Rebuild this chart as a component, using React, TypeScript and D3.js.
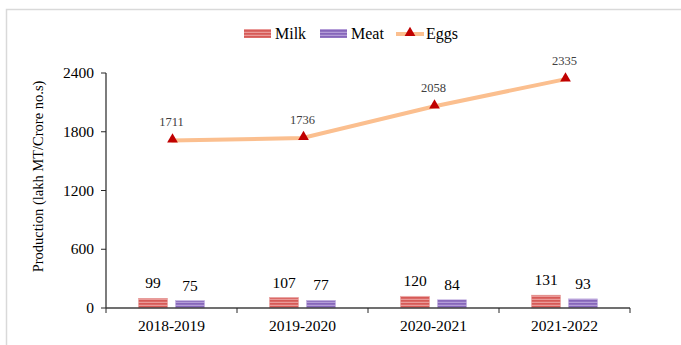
import React from "react";
import * as d3 from "d3";

const categories = ["2018-2019", "2019-2020", "2020-2021", "2021-2022"];
const milk = [99, 107, 120, 131];
const meat = [75, 77, 84, 93];
const eggs = [1711, 1736, 2058, 2335];
const yTicks = [0, 600, 1200, 1800, 2400];

const W = 681, H = 345;
const left = 106, right = 630, top = 73, bottom = 308;
const FONT = "Liberation Serif";

export default function App() {
  const x = d3.scaleBand<string>().domain(categories).range([left, right]);
  const y = d3.scaleLinear().domain([0, 2400]).range([bottom, top]);
  const barW = 29, gap = 8;
  const cx = (c: string) => (x(c) as number) + x.bandwidth() / 2;
  const tri = d3.symbol().type(d3.symbolTriangle).size(50);
  const line = d3.line<number>().x((_, i) => cx(categories[i])).y((d) => y(d));

  return (
    <svg width={W} height={H} style={{ position: "absolute", left: 0, top: 0, background: "#fff", fontFamily: FONT }}>
      <defs>
        <pattern id="pMilk" width="4" height="3" patternUnits="userSpaceOnUse">
          <rect width="4" height="3" fill="#d65a57" />
          <rect y="1.8" width="4" height="1" fill="#f0aaa8" />
        </pattern>
        <pattern id="pMeat" width="4" height="3" patternUnits="userSpaceOnUse">
          <rect width="4" height="3" fill="#8666ba" />
          <rect y="1.8" width="4" height="1" fill="#bfabe0" />
        </pattern>
      </defs>
      <rect x={6.5} y={9.5} width={W + 10} height={H + 10} fill="none" stroke="#d9d9d9" strokeWidth={1.5} />

      {/* legend */}
      <g fontSize={16} fill="#000">
        <rect x={244} y={29} width={27} height={9} fill="url(#pMilk)" />
        <text x={275} y={39}>Milk</text>
        <rect x={320} y={29} width={27} height={9} fill="url(#pMeat)" />
        <text x={351} y={39}>Meat</text>
        <line x1={396} x2={424} y1={34} y2={34} stroke="#fbbf8f" strokeWidth={4} />
        <path d={tri() as string} transform="translate(410,33)" fill="#c00000" />
        <text x={426} y={39}>Eggs</text>
      </g>

      {/* y axis */}
      <line x1={left} x2={left} y1={top} y2={bottom} stroke="#262626" strokeWidth={1.2} />
      {yTicks.map((t) => (
        <g key={t}>
          <line x1={left - 5} x2={left} y1={y(t)} y2={y(t)} stroke="#262626" />
          <text x={left - 12} y={y(t) + 5} textAnchor="end" fontSize={15.5}>{t}</text>
        </g>
      ))}
      <text transform={`translate(43,${(top + bottom) / 2 - 14}) rotate(-90)`} textAnchor="middle" fontSize={14.5}>
        Production (lakh MT/Crore no.s)
      </text>

      {/* bars */}
      {categories.map((c, i) => (
        <g key={c}>
          <rect x={cx(c) - gap / 2 - barW} y={y(milk[i])} width={barW} height={bottom - y(milk[i])} fill="url(#pMilk)" stroke="#e8a09e" strokeWidth={0.6} />
          <rect x={cx(c) + gap / 2} y={y(meat[i])} width={barW} height={bottom - y(meat[i])} fill="url(#pMeat)" stroke="#c2b0e0" strokeWidth={0.6} />
          <text x={cx(c) - gap / 2 - barW / 2} y={y(milk[i]) - 10} textAnchor="middle" fontSize={15.5}>{milk[i]}</text>
          <text x={cx(c) + gap / 2 + barW / 2} y={y(meat[i]) - 10} textAnchor="middle" fontSize={15.5}>{meat[i]}</text>
        </g>
      ))}

      {/* x axis */}
      <line x1={left} x2={right} y1={bottom} y2={bottom} stroke="#404040" strokeWidth={1.5} />
      {categories.concat(["end"]).map((c, i) => {
        const xx = left + i * x.bandwidth();
        return <line key={i} x1={xx} x2={xx} y1={bottom} y2={bottom + 5} stroke="#262626" />;
      })}
      {categories.map((c) => (
        <text key={c} x={cx(c)} y={bottom + 23} textAnchor="middle" fontSize={15.5}>{c}</text>
      ))}

      {/* eggs line */}
      <path d={line(eggs) as string} fill="none" stroke="#fbbf8f" strokeWidth={4} />
      {eggs.map((v, i) => (
        <g key={i}>
          <path d={tri() as string} transform={`translate(${cx(categories[i]) + 1},${y(v) - 1})`} fill="#c00000" />
          <text x={cx(categories[i])} y={y(v) - 14} textAnchor="middle" fontSize={12.5} fill="#404040">{v}</text>
        </g>
      ))}
    </svg>
  );
}
